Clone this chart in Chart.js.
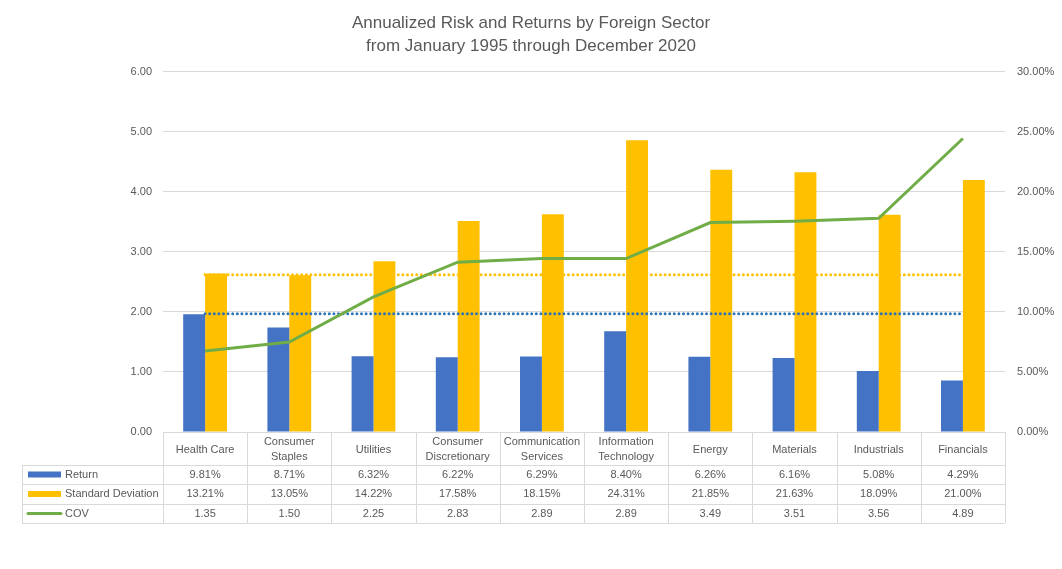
<!DOCTYPE html>
<html>
<head>
<meta charset="utf-8">
<script src="https://cdn.jsdelivr.net/npm/chart.js@4.4.1/dist/chart.umd.min.js"></script>
<style>
  html, body { margin: 0; padding: 0; background: #fff; }
  #wrap { width: 1062px; height: 569px; }
</style>
</head>
<body>
<div id="wrap"><canvas id="chart"></canvas></div>
<script>
// -------------------- DATA -------------------
let Sectors = [
  ['Health Care'], ['Consumer', 'Staples'], ['Utilities'], ['Consumer', 'Discretionary'],
  ['Communication', 'Services'], ['Information', 'Technology'], ['Energy'], ['Materials'],
  ['Industrials'], ['Financials']
];
let ReturnValues = [9.81, 8.71, 6.32, 6.22, 6.29, 8.40, 6.26, 6.16, 5.08, 4.29];      // %
let StdDevValues = [13.21, 13.05, 14.22, 17.58, 18.15, 24.31, 21.85, 21.63, 18.09, 21.00]; // %
let CovValues = [1.35, 1.50, 2.25, 2.83, 2.89, 2.89, 3.49, 3.51, 3.56, 4.89];
// dotted reference levels (right axis, %)
let ReturnRefLine = [9.85, 9.85, 9.85, 9.85, 9.85, 9.85, 9.85, 9.85, 9.85, 9.85];
let StdDevRefLine = [13.1, 13.1, 13.1, 13.1, 13.1, 13.1, 13.1, 13.1, 13.1, 13.1];

let TitleLines = ['Annualized Risk and Returns by Foreign Sector', 'from January 1995 through December 2020'];

// -------------------- STYLE -------------------
const BLUE = '#4472C4';
const GOLD = '#FFC000';
const GREEN = '#70AD47';
const DOT_BLUE = '#2E75B6';
const TEXT = '#595959';
const GRID = '#D9D9D9';
const FONT = '"Liberation Sans", Arial, sans-serif';

// -------------------- TABLE PLUGIN -------------------
const DataTable = {
  id: 'dataTable',
  afterDraw(chart) {
    const ctx = chart.ctx;
    const xs = chart.scales.x;
    const area = chart.chartArea;
    const tableLeft = 22;
    const rows = [area.bottom, area.bottom + 33, area.bottom + 52, area.bottom + 72, area.bottom + 91];
    const catW = xs.getPixelForValue(1) - xs.getPixelForValue(0);

    ctx.save();
    ctx.strokeStyle = GRID;
    ctx.lineWidth = 1;

    // horizontal lines
    ctx.beginPath();
    ctx.moveTo(area.left, rows[0] + 0.5); ctx.lineTo(area.right, rows[0] + 0.5);
    for (let r = 1; r < rows.length; ++r) {
      ctx.moveTo(tableLeft, Math.round(rows[r]) + 0.5);
      ctx.lineTo(area.right, Math.round(rows[r]) + 0.5);
    }
    // vertical lines
    ctx.moveTo(tableLeft + 0.5, rows[1]); ctx.lineTo(tableLeft + 0.5, rows[4]);
    for (let i = 0; i <= Sectors.length; ++i) {
      let bx = Math.round(xs.getPixelForValue(i) - catW / 2) + 0.5;
      ctx.moveTo(bx, rows[0]); ctx.lineTo(bx, rows[4]);
    }
    ctx.stroke();

    ctx.fillStyle = TEXT;
    ctx.font = '11px ' + FONT;
    ctx.textAlign = 'center';
    ctx.textBaseline = 'middle';

    // header row: sector names
    let hMid = (rows[0] + rows[1]) / 2;
    for (let i = 0; i < Sectors.length; ++i) {
      let cx = xs.getPixelForValue(i);
      let lines = Sectors[i];
      if (lines.length === 1) {
        ctx.fillText(lines[0], cx, hMid + 1);
      } else {
        ctx.fillText(lines[0], cx, hMid - 6.5);
        ctx.fillText(lines[1], cx, hMid + 8.5);
      }
    }

    // value rows
    let rowData = [
      ReturnValues.map(v => v.toFixed(2) + '%'),
      StdDevValues.map(v => v.toFixed(2) + '%'),
      CovValues.map(v => v.toFixed(2))
    ];
    for (let r = 0; r < 3; ++r) {
      let mid = (rows[r + 1] + rows[r + 2]) / 2;
      for (let i = 0; i < Sectors.length; ++i) {
        ctx.fillText(rowData[r][i], xs.getPixelForValue(i), mid);
      }
    }

    // legend column
    let names = ['Return', 'Standard Deviation', 'COV'];
    ctx.textAlign = 'left';
    for (let r = 0; r < 3; ++r) {
      let mid = (rows[r + 1] + rows[r + 2]) / 2;
      if (r === 0) { ctx.fillStyle = BLUE; ctx.fillRect(28, mid - 3, 33, 6); }
      if (r === 1) { ctx.fillStyle = GOLD; ctx.fillRect(28, mid - 3, 33, 6); }
      if (r === 2) {
        ctx.strokeStyle = GREEN; ctx.lineWidth = 3; ctx.lineCap = 'round';
        ctx.beginPath(); ctx.moveTo(28, mid); ctx.lineTo(61, mid); ctx.stroke();
      }
      ctx.fillStyle = TEXT;
      ctx.fillText(names[r], 65, mid);
    }
    ctx.restore();
  }
};

// -------------------- CHART -------------------
let CovChart = new Chart(document.getElementById('chart'), {
  type: 'bar',
  data: {
    labels: Sectors.map(s => s.join(' ')),
    datasets: [
      {
        type: 'line', label: 'COV', data: CovValues, yAxisID: 'y',
        borderColor: GREEN, borderWidth: 3, pointRadius: 0, tension: 0, order: 0
      },
      {
        type: 'line', label: 'Return level', data: ReturnRefLine, yAxisID: 'y1',
        borderColor: DOT_BLUE, borderWidth: 3, borderDash: [0, 4.6], borderCapStyle: 'round',
        pointRadius: 0, order: 1
      },
      {
        type: 'line', label: 'Std dev level', data: StdDevRefLine, yAxisID: 'y1',
        borderColor: GOLD, borderWidth: 3, borderDash: [0, 4.6], borderCapStyle: 'round',
        pointRadius: 0, order: 1
      },
      {
        label: 'Return', data: ReturnValues, yAxisID: 'y1', backgroundColor: BLUE,
        categoryPercentage: 0.52, barPercentage: 1, order: 2
      },
      {
        label: 'Standard Deviation', data: StdDevValues, yAxisID: 'y1', backgroundColor: GOLD,
        categoryPercentage: 0.52, barPercentage: 1, order: 2
      }
    ]
  },
  options: {
    responsive: true,
    maintainAspectRatio: false,
    animation: false,
    layout: { padding: 0 },
    plugins: {
      legend: { display: false },
      tooltip: { enabled: false },
      title: {
        display: true,
        text: TitleLines,
        color: TEXT,
        font: { family: FONT, size: 17, weight: 'normal', lineHeight: 1.35 },
        padding: { top: 12, bottom: 14 }
      }
    },
    scales: {
      x: {
        grid: { display: false },
        border: { display: false },
        ticks: { display: false },
        afterFit: s => { s.height = 137; }
      },
      y: {
        position: 'left',
        min: 0, max: 6,
        grid: { color: GRID, drawTicks: false },
        border: { display: false },
        ticks: {
          stepSize: 1, padding: 11, color: TEXT,
          font: { family: FONT, size: 11 },
          callback: v => v.toFixed(2)
        },
        afterFit: s => { s.width = 163; }
      },
      y1: {
        position: 'right',
        min: 0, max: 30,
        grid: { drawOnChartArea: false, drawTicks: false },
        border: { display: false },
        ticks: {
          stepSize: 5, padding: 12, color: TEXT,
          font: { family: FONT, size: 11 },
          callback: v => v.toFixed(2) + '%'
        },
        afterFit: s => { s.width = 57; }
      }
    }
  },
  plugins: [DataTable]
});
</script>
</body>
</html>
